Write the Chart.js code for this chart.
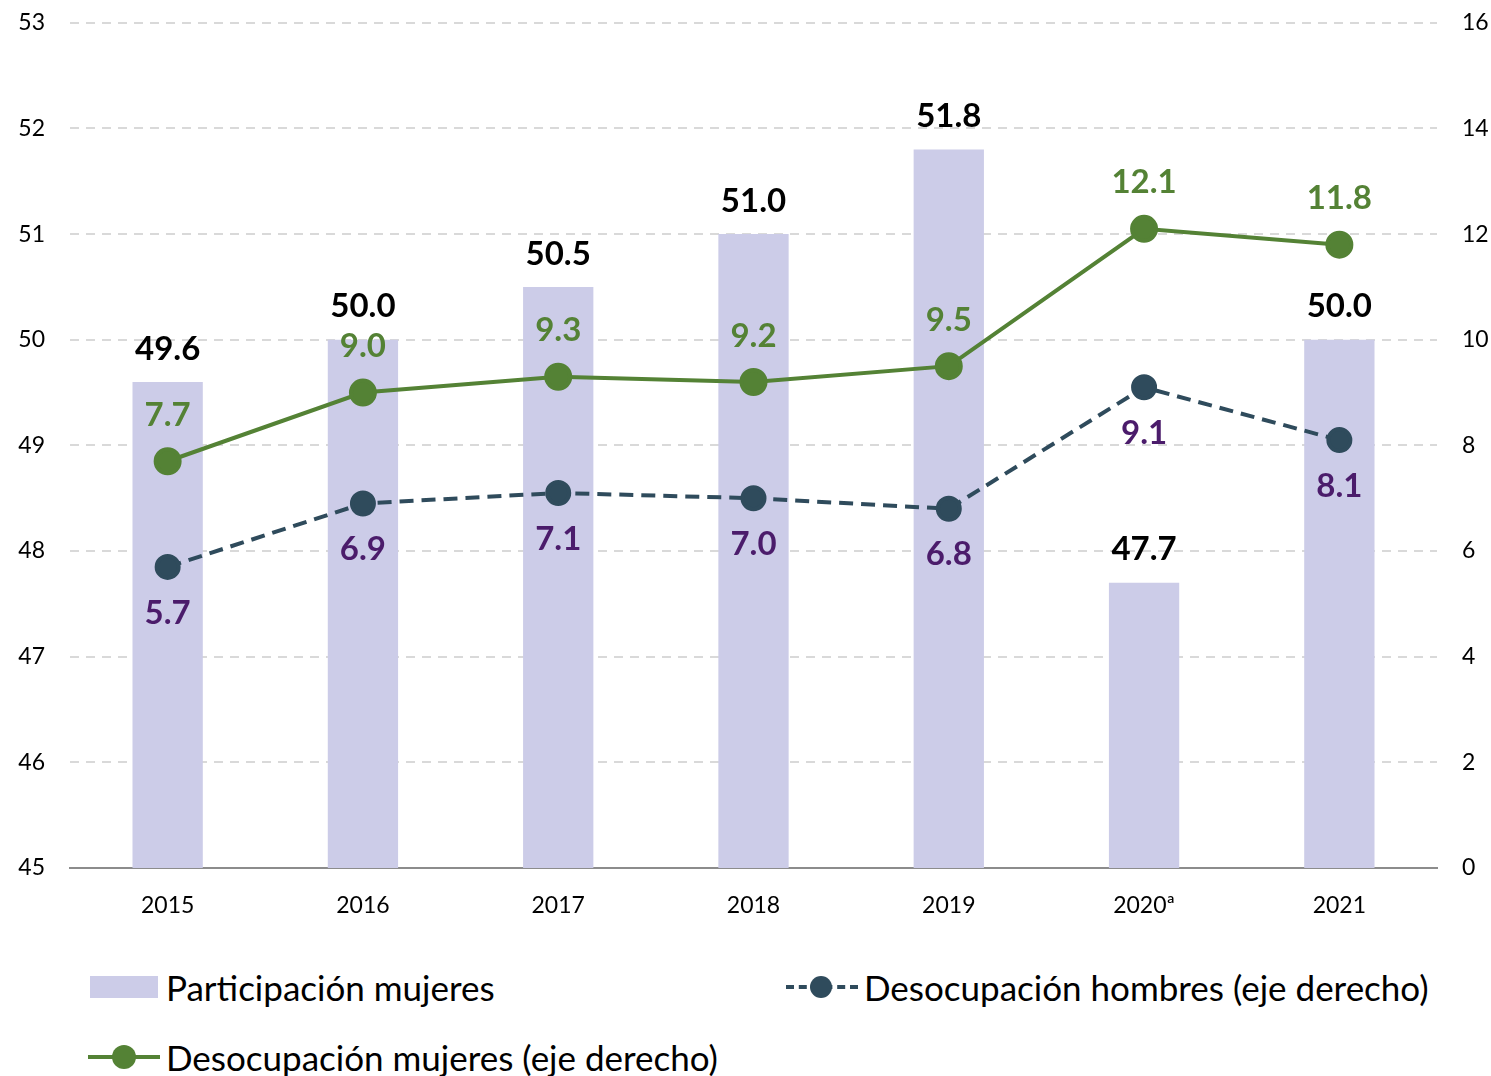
<!DOCTYPE html>
<html>
<head>
<meta charset="utf-8">
<script src="https://cdn.jsdelivr.net/npm/chart.js@4.4.0/dist/chart.umd.min.js"></script>
<style>
  body { margin: 0; background: #fff; font-family: Lato, sans-serif; overflow: hidden; }
  #wrap { position: relative; width: 1491px; height: 1076px; overflow: hidden; }
  #chart { position: absolute; left: 0; top: -16px; }
  .item { position: absolute; display: flex; align-items: center; font-size: 35px; color: #000; white-space: nowrap; }
  .sw { position: relative; width: 72px; height: 24px; margin-right: 6px; }
  .bar { position: absolute; left: 2px; top: 1px; width: 68px; height: 22px; background: #cccce8; }
  .ln { position: absolute; left: 0; right: 0; top: 10px; height: 0; border-top: 4px solid; }
  .dot { position: absolute; left: 24px; top: 0; width: 24px; height: 24px; border-radius: 50%; }
</style>
</head>
<body>
<div id="wrap">
  <canvas id="chart" width="1491" height="956"></canvas>
  <div class="item" style="left:88px; top:966px;">
    <div class="sw"><div class="bar"></div></div>Participación mujeres
  </div>
  <div class="item" style="left:786px; top:966px;">
    <div class="sw"><div class="ln" style="border-top:4px dashed #2f4b5c;"></div><div class="dot" style="background:#2f4b5c; width:22px; height:22px; top:1px; left:24px;"></div></div>Desocupación hombres (eje derecho)
  </div>
  <div class="item" style="left:88px; top:1036px;">
    <div class="sw"><div class="ln" style="border-color:#548235;"></div><div class="dot" style="background:#548235;"></div></div>Desocupación mujeres (eje derecho)
  </div>
</div>
<script>
// datos
const years = ['2015', '2016', '2017', '2018', '2019', '2020ª', '2021'];
const participacionMujeres = [49.6, 50.0, 50.5, 51.0, 51.8, 47.7, 50.0];
const desocupacionMujeres = [7.7, 9.0, 9.3, 9.2, 9.5, 12.1, 11.8];
const desocupacionHombres = [5.7, 6.9, 7.1, 7.0, 6.8, 9.1, 8.1];

// etiquetas de valores sobre/debajo de cada marca
const valueLabels = {
  id: 'valueLabels',
  afterDatasetsDraw(chart) {
    const ctx = chart.ctx;
    ctx.save();
    ctx.font = 'bold 33px Lato';
    ctx.textAlign = 'center';
    ctx.textBaseline = 'middle';
    chart.data.datasets.forEach((ds, i) => {
      const meta = chart.getDatasetMeta(i);
      meta.data.forEach((el, j) => {
        ctx.fillStyle = ds.labelColor;
        ctx.fillText(ds.data[j].toFixed(1), el.x, el.y + ds.labelOffset);
      });
    });
    ctx.restore();
  }
};

new Chart(document.getElementById('chart'), {
  type: 'bar',
  data: {
    labels: years,
    datasets: [
      {
        type: 'line',
        label: 'Desocupación mujeres (eje derecho)',
        data: desocupacionMujeres,
        yAxisID: 'y1',
        borderColor: '#548235',
        backgroundColor: '#548235',
        borderWidth: 4,
        pointRadius: 12,
        pointHoverRadius: 12,
        labelColor: '#548235',
        labelOffset: -46,
        order: 1
      },
      {
        type: 'line',
        label: 'Desocupación hombres (eje derecho)',
        data: desocupacionHombres,
        yAxisID: 'y1',
        borderColor: '#2f4b5c',
        backgroundColor: '#2f4b5c',
        borderWidth: 4,
        borderDash: [14, 8],
        pointRadius: 11,
        pointHoverRadius: 11,
        labelColor: '#4b1c6b',
        labelOffset: 46,
        order: 2
      },
      {
        label: 'Participación mujeres',
        data: participacionMujeres,
        yAxisID: 'y',
        backgroundColor: '#cccce8',
        categoryPercentage: 1,
        barPercentage: 0.36,
        labelColor: '#000',
        labelOffset: -33,
        order: 3
      }
    ]
  },
  options: {
    responsive: false,
    animation: false,
    layout: { padding: { top: 4, left: 0, right: 0, bottom: 0 } },
    plugins: { legend: { display: false }, tooltip: { enabled: false } },
    scales: {
      x: {
        grid: { display: false },
        border: { color: '#8c8c8c', width: 2 },
        ticks: { color: '#000', font: { family: 'Lato', size: 23 }, padding: 16 },
        afterFit(s) { s.height = 72; }
      },
      y: {
        position: 'left',
        min: 45, max: 53,
        ticks: { stepSize: 1, color: '#000', font: { family: 'Lato', size: 23 }, padding: 25 },
        grid: { color: '#d9d9d9', lineWidth: 2, drawTicks: false },
        border: { display: false, dash: [9, 7] },
        afterFit(s) { s.width = 70; }
      },
      y1: {
        position: 'right',
        min: 0, max: 16,
        ticks: { stepSize: 2, color: '#000', font: { family: 'Lato', size: 23 }, padding: 17 },
        grid: { display: false },
        border: { display: false },
        afterFit(s) { s.width = 54; }
      }
    }
  },
  plugins: [valueLabels]
});
</script>
</body>
</html>
